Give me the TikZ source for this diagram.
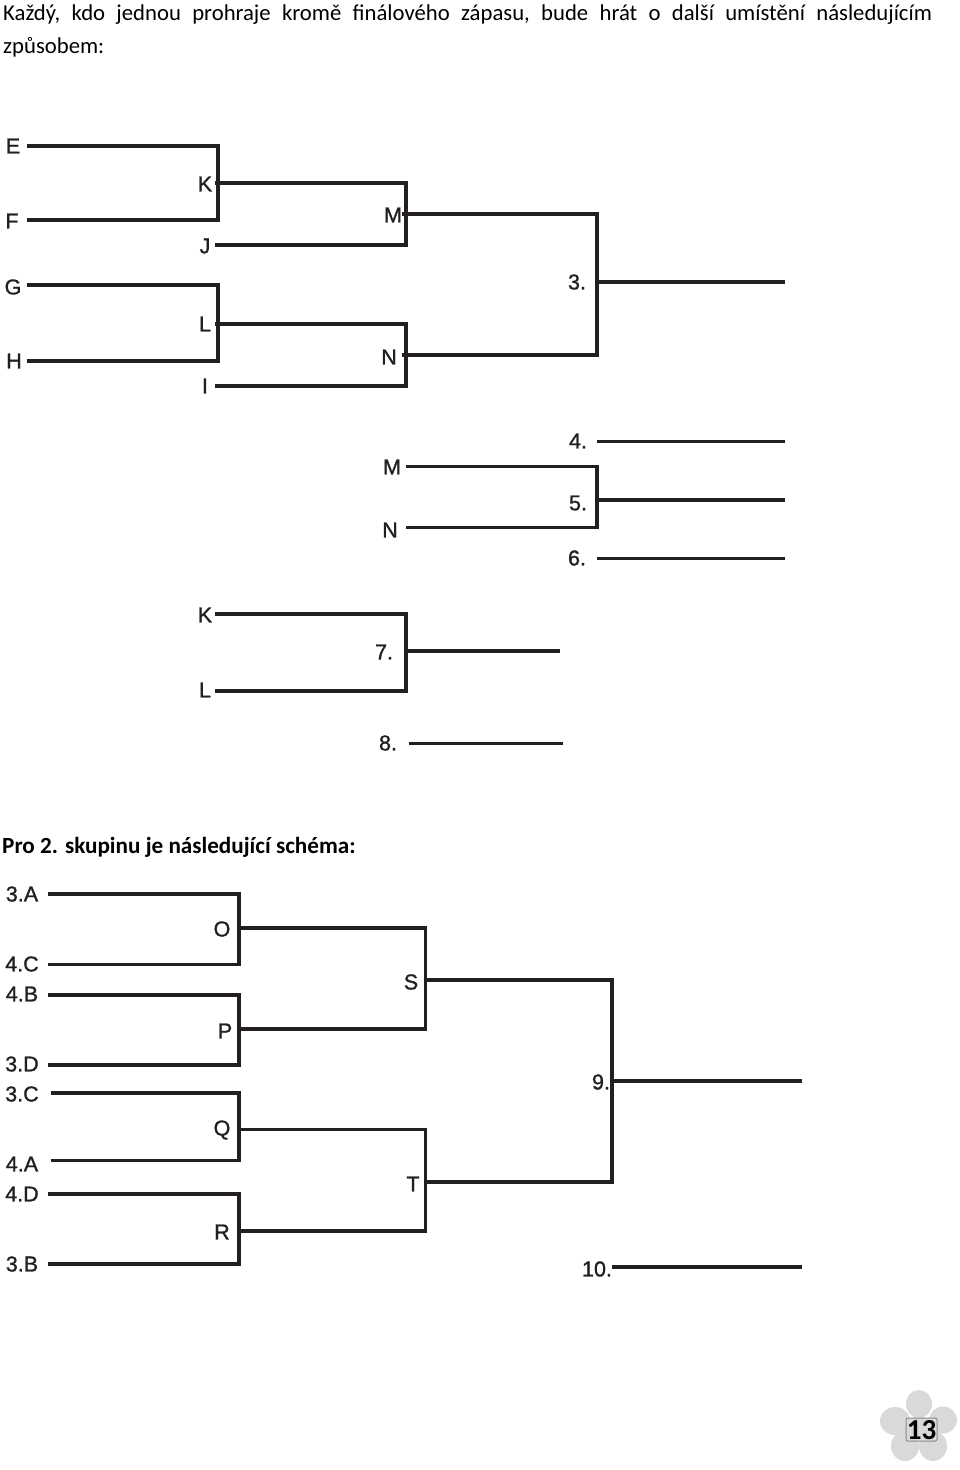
\documentclass[tikz,border=0pt]{standalone}
\usepackage{fontspec}
\setmainfont{Carlito}
\newfontfamily\arialf[FakeBold=1.2]{Liberation Sans}
\definecolor{ink}{HTML}{231F20}
\tikzset{
  wire/.style={draw=ink,line width=3.4pt,line cap=butt,line join=miter},
  lab/.style={inner sep=0pt,font=\arialf\fontsize{21.5}{21.5}\selectfont,text=ink},
  txt/.style={inner sep=0pt,anchor=base west,font=\fontsize{22.7}{26}\selectfont,text=black},
  petal/.style={fill=black!15,draw=none}
}
\newcommand{\brk}[4]{\draw[wire] (#1) -- (#2) -- (#3) -- (#4);}
\begin{document}
\begin{tikzpicture}[x=1pt,y=-1pt]
\useasboundingbox (0,0) rectangle (960,1470);
% header
\node[txt] (t1) at (3,20) {Každý,\hspace{.5em}kdo\hspace{.5em}jednou\hspace{.5em}prohraje\hspace{.5em}kromě\hspace{.5em}finálového\hspace{.5em}zápasu,\hspace{.5em}bude\hspace{.5em}hrát\hspace{.5em}o\hspace{.5em}další\hspace{.5em}umístění\hspace{.5em}následujícím};
\node[txt] (t2) at (3,53) {způsobem:};
\node[txt,font=\bfseries\fontsize{23.15}{26}\selectfont] (t3) at (2,853) {Pro 2. skupinu je následující schéma:};
% labels
\foreach \n/\t/\x/\y in {
 lE/E/13/146, lF/F/12/221, lG/G/13/287, lH/H/14/361,
 lK/K/205/184, lJ/J/205/246, lL/L/205/324, lI/I/205/386,
 lM/M/393/215, lN/N/389/357, lMb/M/392/467, lNb/N/390/530,
 lKb/K/205/615, lLb/L/205/690,
 l3/3./577/282, l4/4./578/441, l5/5./578/503, l6/6./577/558, l7/7./384/652, l8/8./388/743,
 lA3/3.A/22/894, lC4/4.C/22/964, lB4/4.B/22/994, lD3/3.D/22/1064, lC3/3.C/22/1094,
 lA4/4.A/22/1164, lD4/4.D/22/1194, lB3/3.B/22/1264,
 lO/O/222/929, lP/P/225/1031, lQ/Q/222/1130, lR/R/222/1232,
 lS/S/411/982, lT/T/413/1184, l9/9./601/1082, l10/10./597/1269}
 {\node[lab] (\n) at (\x,\y) {\t};}
% free ends of the wires
\foreach \n/\x/\y in {
 e/27/146, ec/218/146, f/27/220, fc/218/220,
 g/27/285, gc/218/285, h/27/361, hc/218/361,
 k/215/183, kc/406/183, j/215/245, jc/406/245,
 l/215/324, lc/406/324, i/215/386, ic/406/386,
 m/402/214, mc/597/214, n/402/355, nc/597/355,
 o3s/597/282, o3e/785/282,
 mb/406/466.5, mbc/597/466.5, nb/406/527.7, nbc/597/527.7,
 o4s/597/441.5, o4e/785/441.5, o5s/597/500, o5e/785/500, o6s/597/558.5, o6e/785/558.5,
 kb/215/614, kbc/406/614, lb/215/691, lbc/406/691,
 o7s/406/651, o7e/560/651, o8s/409/743.5, o8e/563/743.5,
 a/48/894, ac/239/894, c/48/964.5, cc/239/964.5,
 b/48/995, bc/239/995, d/48/1065, dc/239/1065,
 c3/51/1093, c3c/239/1093, a4/51/1160.5, a4c/239/1160.5,
 d4/48/1194, d4c/239/1194, b3/48/1264, b3c/239/1264,
 oo/239/928, ooc/425.5/928, p/239/1029, pc/425.5/1029,
 q/239/1129.5, qc/425.5/1129.5, r/239/1231, rc/425.5/1231,
 s/425.5/980, sc/612/980, t/425.5/1182, tc/612/1182,
 o9s/612/1081, o9e/802/1081, o10s/612/1267, o10e/802/1267}
 {\coordinate (\n) at (\x,\y);}
\brk{e}{ec}{fc}{f}
\brk{g}{gc}{hc}{h}
\brk{k}{kc}{jc}{j}
\brk{l}{lc}{ic}{i}
\brk{m}{mc}{nc}{n}
\draw[wire] (o3s) -- (o3e);
\brk{mb}{mbc}{nbc}{nb}
\draw[wire] (o4s) -- (o4e);
\draw[wire] (o5s) -- (o5e);
\draw[wire] (o6s) -- (o6e);
\brk{kb}{kbc}{lbc}{lb}
\draw[wire] (o7s) -- (o7e);
\draw[wire] (o8s) -- (o8e);
\brk{a}{ac}{cc}{c}
\brk{b}{bc}{dc}{d}
\brk{c3}{c3c}{a4c}{a4}
\brk{d4}{d4c}{b3c}{b3}
\brk{oo}{ooc}{pc}{p}
\brk{q}{qc}{rc}{r}
\brk{s}{sc}{tc}{t}
\draw[wire] (o9s) -- (o9e);
\draw[wire] (o10s) -- (o10e);
% page flower
\fill[petal] (919,1404) ellipse [x radius=13,y radius=14];
\fill[petal] (895,1421) ellipse [x radius=15,y radius=14];
\fill[petal] (943,1420) ellipse [x radius=14,y radius=13.5];
\fill[petal] (905,1446) ellipse [x radius=14,y radius=15];
\fill[petal] (933,1446) ellipse [x radius=14,y radius=15];
\fill[petal] (919,1428) circle [radius=12];
\path[fill=black!15,draw=black!45,line width=1pt,rounded corners=2pt] (906,1418) rectangle (937,1441);
\node[inner sep=0pt,font=\bfseries\fontsize{29}{29}\selectfont] (pg) at (921.5,1430) {13};
\end{tikzpicture}
\end{document}
